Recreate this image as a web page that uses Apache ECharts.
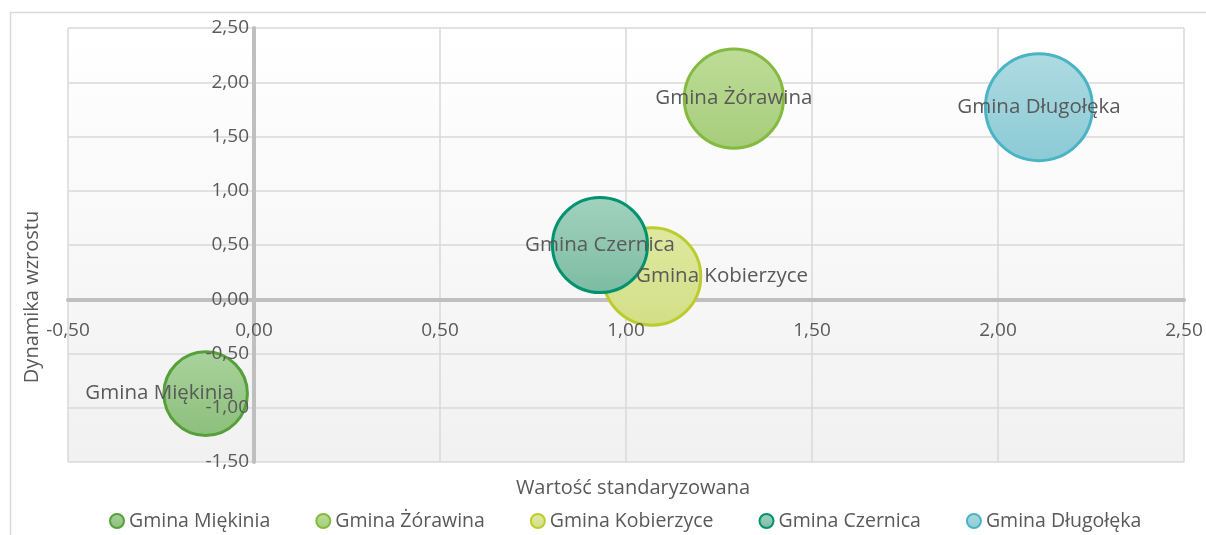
<!DOCTYPE html>
<html>
<head>
<meta charset="utf-8">
<script src="https://cdn.jsdelivr.net/npm/echarts@6/dist/echarts.min.js"></script>
<style>
  html, body { margin: 0; padding: 0; background: #fff; }
  #chart { width: 1206px; height: 535px; }
</style>
</head>
<body>
<div id="chart"></div>
<script>
// gminy - wartosc standaryzowana / dynamika wzrostu / wielkosc babla
const names = ['Gmina Miękinia', 'Gmina Żórawina', 'Gmina Kobierzyce', 'Gmina Czernica', 'Gmina Długołęka'];
const xValues = [-0.13, 1.29, 1.07, 0.93, 2.11];
const yValues = [-0.87, 1.85, 0.21, 0.50, 1.77];
const sizes = [0.61, 0.86, 0.83, 0.79, 1.00];

const borderColors = ['#55a03a', '#84ba3f', '#bccc2e', '#00936f', '#4ab4c4'];
const fillTop = ['#a9d39c', '#bedd98', '#dee9a0', '#a2d2bf', '#aedbe2'];
const fillBottom = ['#8cbf7c', '#a6cd7a', '#d3df86', '#7dbba3', '#8bcad5'];
const labelOffsets = [[-46, 0], [0, 0], [70, 0], [0, 0], [0, 0]];

const fmt = v => v.toFixed(2).replace('.', ',');
const textColor = '#595959';
const font = 'Open Sans';

const chart = echarts.init(document.getElementById('chart'));

const series = names.map((n, i) => ({
  name: n,
  type: 'scatter',
  data: [[xValues[i], yValues[i], sizes[i]]],
  symbolSize: d => Math.sqrt(d[2]) * 107,
  itemStyle: {
    color: new echarts.graphic.LinearGradient(0, 0, 0, 1, [
      { offset: 0, color: fillTop[i] },
      { offset: 1, color: fillBottom[i] }
    ]),
    borderColor: borderColors[i],
    borderWidth: 3,
    opacity: 1
  },
  label: {
    show: true,
    position: 'inside',
    offset: labelOffsets[i],
    formatter: n,
    color: textColor,
    fontFamily: font,
    fontSize: 20.5
  },
  emphasis: { disabled: true },
  z: 3
}));

chart.setOption({
  animation: false,
  textStyle: { fontFamily: font },
  graphic: [
    {
      type: 'rect',
      shape: { x: 10.5, y: 12.5, width: 1210, height: 540 },
      style: { fill: 'none', stroke: '#d9d9d9', lineWidth: 1.5 },
      silent: true
    },
    {
      type: 'text',
      x: 633,
      y: 488,
      style: { text: 'Wartość standaryzowana', fill: textColor, font: '20px "Open Sans"', align: 'center', verticalAlign: 'middle' }
    },
    {
      type: 'text',
      x: 32,
      y: 297,
      rotation: Math.PI / 2,
      style: { text: 'Dynamika wzrostu', fill: textColor, font: '20px "Open Sans"', align: 'center', verticalAlign: 'middle' }
    }
  ],
  grid: {
    left: 68,
    right: 22,
    top: 28,
    bottom: 73,
    show: true,
    borderWidth: 0,
    backgroundColor: new echarts.graphic.LinearGradient(0, 0, 0, 1, [
      { offset: 0, color: '#ffffff' },
      { offset: 1, color: '#f1f1f1' }
    ])
  },
  legend: {
    top: 506,
    left: 104,
    icon: 'circle',
    itemWidth: 14,
    itemHeight: 14,
    itemGap: 45,
    textStyle: { color: textColor, fontSize: 19.5, fontFamily: font },
    data: names
  },
  xAxis: [
    {
      type: 'value',
      min: -0.5,
      max: 2.5,
      interval: 0.5,
      axisLine: { onZero: true, lineStyle: { color: '#bfbfbf', width: 4 } },
      axisTick: { show: false },
      axisLabel: { show: false },
      splitLine: { lineStyle: { color: '#d9d9d9', width: 1.5 } },
      z: 1
    },
    {
      // etykiety osi X przy linii zera
      type: 'value',
      min: -0.5,
      max: 2.5,
      interval: 0.5,
      position: 'bottom',
      offset: -164,
      axisLine: { show: false, onZero: false },
      axisTick: { show: false },
      axisLabel: { formatter: fmt, color: textColor, fontSize: 19, margin: 23 },
      splitLine: { show: false },
      z: 10
    }
  ],
  yAxis: [
    {
      type: 'value',
      min: -1.5,
      max: 2.5,
      interval: 0.5,
      axisLine: { onZero: true, lineStyle: { color: '#bfbfbf', width: 4 } },
      axisTick: { show: false },
      axisLabel: { show: false },
      splitLine: { lineStyle: { color: '#d9d9d9', width: 1.5 } },
      z: 1
    },
    {
      // etykiety osi Y przy linii zera
      type: 'value',
      min: -1.5,
      max: 2.5,
      interval: 0.5,
      position: 'left',
      offset: -186,
      axisLine: { show: false, onZero: false },
      axisTick: { show: false },
      axisLabel: { formatter: fmt, color: textColor, fontSize: 19, margin: 5 },
      splitLine: { show: false },
      z: 10
    }
  ],
  series: series
});
</script>
</body>
</html>
